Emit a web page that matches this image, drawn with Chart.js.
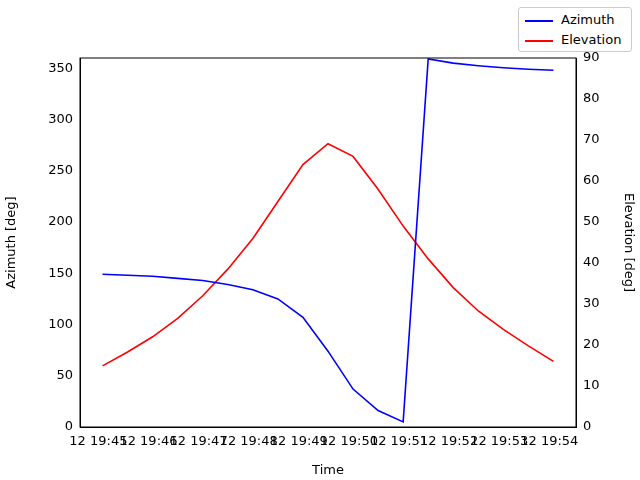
<!DOCTYPE html>
<html><head><meta charset="utf-8">
<script src="https://cdn.jsdelivr.net/npm/chart.js@4"></script>
<style>
body{margin:0;background:#fff;font-family:"DejaVu Sans",sans-serif}
#wrap{position:relative;width:640px;height:480px}
#legend{position:absolute;left:518px;top:7px;width:114px;height:45px;border:1px solid #ccc;border-radius:3px;background:#fff;font-size:13px;box-sizing:border-box}
.it{position:absolute;left:6px;height:18px;line-height:18px}
.ln{display:inline-block;width:28px;height:2px;vertical-align:middle;margin-right:8px}
</style></head><body>
<div id="wrap"><canvas id="c" width="640" height="480"></canvas>
<div id="legend"><div class="it" style="top:3px"><span class="ln" style="background:#0000ff"></span>Azimuth</div><div class="it" style="top:23px"><span class="ln" style="background:#ff0000"></span>Elevation</div></div></div>
<script>
const minutes=[0.083,0.583,1.083,1.583,2.083,2.583,3.083,3.583,4.083,4.583,5.083,5.583,6.083,6.583,7.083,7.583,8.083,8.583,9.083];
const azimuth=[149,148,147,145,143,139,134,125,107,74,37,16,5,359,355,352.5,350.5,349,348];
const elevation=[14.9,18.3,22,26.5,32,38.5,46,55,64,69.1,66,58,49,41,34,28.3,23.8,19.8,16];
const tickLabels=['12 19:45','12 19:46','12 19:47','12 19:48','12 19:49','12 19:50','12 19:51','12 19:52','12 19:53','12 19:54'];
const f={family:'DejaVu Sans',size:13};
const tk={color:'#000',font:f};
new Chart(document.getElementById('c'),{type:'line',
data:{datasets:[
{label:'Azimuth',data:minutes.map((x,i)=>({x,y:azimuth[i]})),borderColor:'#0000ff',borderWidth:1.6,pointRadius:0,yAxisID:'y',tension:0},
{label:'Elevation',data:minutes.map((x,i)=>({x,y:elevation[i]})),borderColor:'#ff0000',borderWidth:1.6,pointRadius:0,yAxisID:'y2',tension:0}]},
options:{responsive:false,animation:false,
layout:{padding:{top:58,right:0,bottom:0,left:0}},
plugins:{legend:{display:false},tooltip:{enabled:false}},
scales:{
x:{type:'linear',min:-0.367,max:9.533,afterBuildTicks:a=>{a.ticks=tickLabels.map((_,i)=>({value:i}));},
ticks:{...tk,maxRotation:0,autoSkip:false,callback:(v)=>tickLabels[v]},
grid:{display:false,drawTicks:true,tickLength:4,tickColor:'#000'},border:{color:'#000'},
title:{display:true,text:'Time',font:f,color:'#000',padding:2},afterFit:a=>{a.height=53;}},
y:{position:'left',min:0,max:360,afterBuildTicks:a=>{a.ticks=[0,50,100,150,200,250,300,350].map(v=>({value:v}));},
ticks:{...tk},grid:{display:false,tickLength:4,tickColor:'#000'},border:{color:'#000'},
title:{display:true,text:'Azimuth [deg]',font:f,color:'#000'},afterFit:a=>{a.width=80;}},
y2:{position:'right',min:0,max:90,afterBuildTicks:a=>{a.ticks=[0,10,20,30,40,50,60,70,80,90].map(v=>({value:v}));},
ticks:{...tk},grid:{display:false,tickLength:4,tickColor:'#000'},border:{color:'#000'},
title:{display:true,text:'Elevation [deg]',font:f,color:'#000'},afterFit:a=>{a.width=64;}}
}},
plugins:[{id:'box',afterDraw(c){const a=c.chartArea,x=c.ctx;x.save();x.strokeStyle='#000';x.lineWidth=1;x.strokeRect(a.left,a.top,a.right-a.left,a.bottom-a.top);x.restore();}}]
});
</script></body></html>
